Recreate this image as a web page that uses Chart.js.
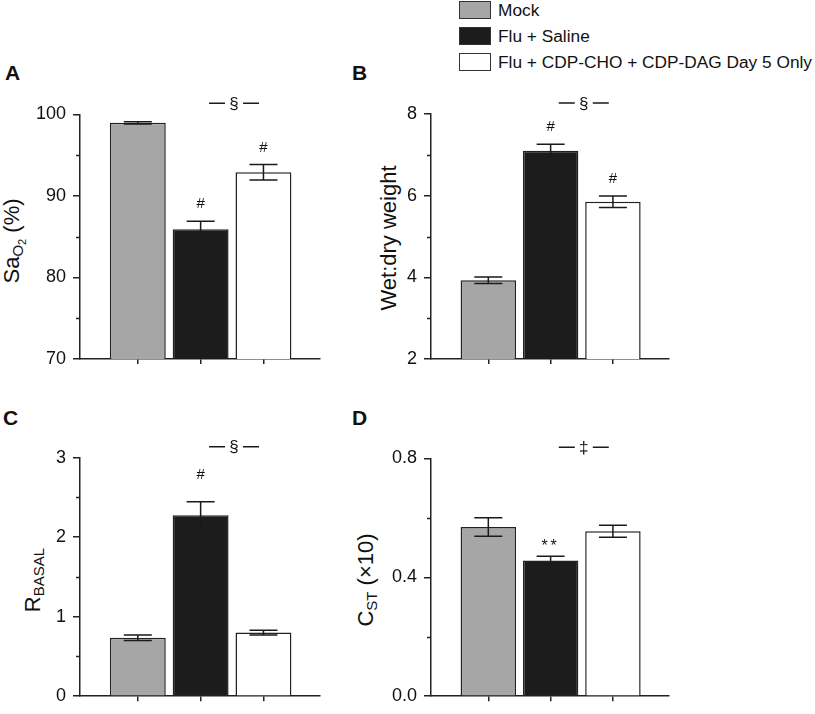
<!DOCTYPE html>
<html>
<head>
<meta charset="utf-8">
<script src="https://cdn.jsdelivr.net/npm/chart.js@4.4.1/dist/chart.umd.min.js"></script>
<style>
  html, body { margin: 0; padding: 0; background: #fff; }
  body { position: relative; width: 815px; height: 714px; overflow: hidden;
         font-family: 'Liberation Sans', Arial, Helvetica, sans-serif; color: #111; }
  canvas { position: absolute; }
  .letter { position: absolute; font-weight: bold; font-size: 21px; line-height: 21px; }
  .ytitle { position: absolute; font-size: 22px; line-height: 22px; white-space: nowrap;
            transform: translate(-50%, -50%) rotate(-90deg); }
  .ytitle sub { font-size: 15px; line-height: 0; vertical-align: -0.25em; }
  .ytitle sub sub { font-size: 11px; vertical-align: -0.3em; }
  .lg { position: absolute; left: 459px; height: 18px; display: flex; align-items: center; }
  .lg .box { width: 32px; height: 18px; box-sizing: border-box; border: 1.5px solid #333; }
  .lg .txt { position: absolute; left: 39px; font-size: 17.3px; white-space: nowrap; top: 0px; line-height: 18px; }
</style>
</head>
<body>
<div id="legend"></div>

<div class="letter" style="left:5px; top:62px;">A</div>
<div class="letter" style="left:352px; top:62px;">B</div>
<div class="letter" style="left:3px; top:407px;">C</div>
<div class="letter" style="left:352px; top:407px;">D</div>

<div class="ytitle" style="left:12px; top:241px;">Sa<sub>O<sub>2</sub></sub> (%)</div>
<div class="ytitle" style="left:389px; top:238px;">Wet:dry weight</div>
<div class="ytitle" style="left:33px; top:580px;">R<sub>BASAL</sub></div>
<div class="ytitle" style="left:366px; top:580px;">C<sub>ST</sub> (×10)</div>

<canvas id="cA" width="400" height="330" style="left:0px; top:50px;"></canvas>
<canvas id="cB" width="445" height="330" style="left:370px; top:50px;"></canvas>
<canvas id="cC" width="400" height="334" style="left:0px; top:380px;"></canvas>
<canvas id="cD" width="445" height="334" style="left:370px; top:380px;"></canvas>

<script>
// ---------- DATA ----------
const categories = ['Mock', 'Flu + Saline', 'Flu + CDP-CHO + CDP-DAG Day 5 Only'];
const barColors = ['#a6a6a6', '#1c1c1c', '#ffffff'];
const xPositions = [1, 2, 3];

const sao2Values = [98.95, 85.9, 92.9];
const sao2Errors = [0.15, 1.0, 0.95];
const sao2Marks = ['', '#', '#'];
const sao2Ticks = [70, 80, 90, 100];

const wetDryValues = [3.93, 7.1, 5.85];
const wetDryErrors = [0.08, 0.16, 0.14];
const wetDryMarks = ['', '#', '#'];
const wetDryTicks = [2, 4, 6, 8];

const rBasalValues = [0.735, 2.277, 0.80];
const rBasalErrors = [0.035, 0.168, 0.03];
const rBasalMarks = ['', '#', ''];
const rBasalTicks = [0, 1, 2, 3];

const cstValues = [0.569, 0.456, 0.5545];
const cstErrors = [0.031, 0.015, 0.02];
const cstMarks = ['', '**', ''];
const cstTicks = [0.0, 0.4, 0.8];

const sigSymbols = ['§', '§', '§', '‡'];

// ---------- LEGEND ----------
const legendTops = [1, 27, 53];
const legendEl = document.getElementById('legend');
categories.forEach((c, i) => {
  const row = document.createElement('div');
  row.className = 'lg';
  row.style.top = legendTops[i] + 'px';
  const box = document.createElement('div');
  box.className = 'box';
  box.style.background = barColors[i];
  const t = document.createElement('div');
  t.className = 'txt';
  t.textContent = c;
  row.appendChild(box); row.appendChild(t);
  legendEl.appendChild(row);
});

// ---------- PLUGIN ----------
const FONT = "'Liberation Sans', Arial, Helvetica, sans-serif";
const isMajor = (v, majors) => majors.some(m => Math.abs(m - v) < 1e-7);

const extras = {
  id: 'extras',
  afterDatasetsDraw(chart, args, o) {
    const ctx = chart.ctx, ys = chart.scales.y, meta = chart.getDatasetMeta(0);
    const ca = chart.chartArea;
    ctx.save();
    ctx.strokeStyle = '#1a1a1a';
    ctx.lineWidth = 1.5;
    // error bars + marks
    o.values.forEach((v, i) => {
      const x = meta.data[i].x, e = o.errors[i];
      const yt = ys.getPixelForValue(v + e), yb = ys.getPixelForValue(v - e);
      ctx.beginPath();
      ctx.moveTo(x, yt); ctx.lineTo(x, yb);
      ctx.moveTo(x - 14, yt); ctx.lineTo(x + 14, yt);
      ctx.moveTo(x - 14, yb); ctx.lineTo(x + 14, yb);
      ctx.stroke();
      if (o.marks[i]) {
        ctx.fillStyle = '#111';
        ctx.font = (o.marks[i] === '**' ? '16px ' : '15px ') + FONT;
        ctx.textAlign = 'center';
        ctx.textBaseline = 'middle';
        if (o.marks[i] === '**') ctx.letterSpacing = '3px';
        ctx.fillText(o.marks[i], x, yt - o.markGap + (o.marks[i] === '**' ? 3 : 0));
        ctx.letterSpacing = '0px';
      }
    });
    // significance bracket
    const c = (meta.data[1].x + meta.data[2].x) / 2 + 2;
    const sy = ca.top - 11;
    ctx.beginPath();
    ctx.moveTo(c - 25, sy); ctx.lineTo(c - 9, sy);
    ctx.moveTo(c + 9, sy); ctx.lineTo(c + 25, sy);
    ctx.stroke();
    ctx.fillStyle = '#111';
    ctx.font = '17px ' + FONT;
    ctx.textAlign = 'center';
    ctx.textBaseline = 'middle';
    ctx.fillText(o.sig, c, sy + 1);
    // minor ticks on y axis
    ctx.strokeStyle = '#222';
    ys.ticks.forEach(t => {
      if (!isMajor(t.value, o.majors)) {
        const py = Math.round(ys.getPixelForValue(t.value)) + 0.5;
        ctx.beginPath();
        ctx.moveTo(ca.left - 4, py); ctx.lineTo(ca.left, py);
        ctx.stroke();
      }
    });
    ctx.restore();
  }
};

function makePanel(id, cfg) {
  const majors = cfg.majors;
  new Chart(document.getElementById(id), {
    type: 'bar',
    data: {
      datasets: [{
        label: 'groups',
        data: cfg.values.map((v, i) => ({ x: xPositions[i], y: v })),
        backgroundColor: barColors,
        borderColor: '#222',
        borderWidth: 1.5,
        barPercentage: 0.89,
        categoryPercentage: 1,
        clip: 0
      }]
    },
    options: {
      responsive: false,
      animation: false,
      devicePixelRatio: 1,
      layout: { padding: cfg.padding },
      plugins: {
        legend: { display: false },
        tooltip: { enabled: false },
        extras: { values: cfg.values, errors: cfg.errors, marks: cfg.marks, markGap: cfg.markGap,
                  sig: cfg.sig, majors: majors }
      },
      scales: {
        x: {
          type: 'linear', min: 0.08, max: 3.9, offset: false,
          afterBuildTicks: s => { s.ticks = xPositions.map(v => ({ value: v })); },
          afterFit: s => { s.height = 10; },
          ticks: { display: false },
          grid: { drawOnChartArea: false, drawTicks: true, tickLength: 5, color: '#222', lineWidth: 1.5, offset: false },
          border: { display: true, color: '#222', width: 1.5 }
        },
        y: {
          min: majors[0], max: majors[majors.length - 1],
          afterFit: s => { s.width = cfg.yWidth; },
          ticks: {
            stepSize: cfg.step, autoSkip: false, padding: 7, color: '#111',
            font: { family: FONT, size: 18 },
            callback: v => isMajor(v, majors) ? Number(v).toFixed(cfg.decimals) : ''
          },
          grid: {
            drawOnChartArea: false, tickLength: 7, lineWidth: 1.5,
            color: c => (c.tick && isMajor(c.tick.value, majors)) ? '#222' : 'rgba(0,0,0,0)'
          },
          border: { display: true, color: '#222', width: 1.5 }
        }
      }
    },
    plugins: [extras]
  });
}

makePanel('cA', { values: sao2Values, errors: sao2Errors, marks: sao2Marks, majors: sao2Ticks, step: 5,
  decimals: 0, sig: sigSymbols[0], markGap: 17, yWidth: 80,
  padding: { left: 0, right: 80, top: 64.3, bottom: 11 } });
makePanel('cB', { values: wetDryValues, errors: wetDryErrors, marks: wetDryMarks, majors: wetDryTicks, step: 1,
  decimals: 0, sig: sigSymbols[1], markGap: 17, yWidth: 61,
  padding: { left: 0, right: 146, top: 64, bottom: 11 } });
makePanel('cC', { values: rBasalValues, errors: rBasalErrors, marks: rBasalMarks, majors: rBasalTicks, step: 0.5,
  decimals: 0, sig: sigSymbols[2], markGap: 27, yWidth: 80,
  padding: { left: 0, right: 80, top: 77.7, bottom: 1.3 } });
makePanel('cD', { values: cstValues, errors: cstErrors, marks: cstMarks, majors: cstTicks, step: 0.2,
  decimals: 1, sig: sigSymbols[3], markGap: 13, yWidth: 61,
  padding: { left: 0, right: 146, top: 78.3, bottom: 1.3 } });
</script>
</body>
</html>
